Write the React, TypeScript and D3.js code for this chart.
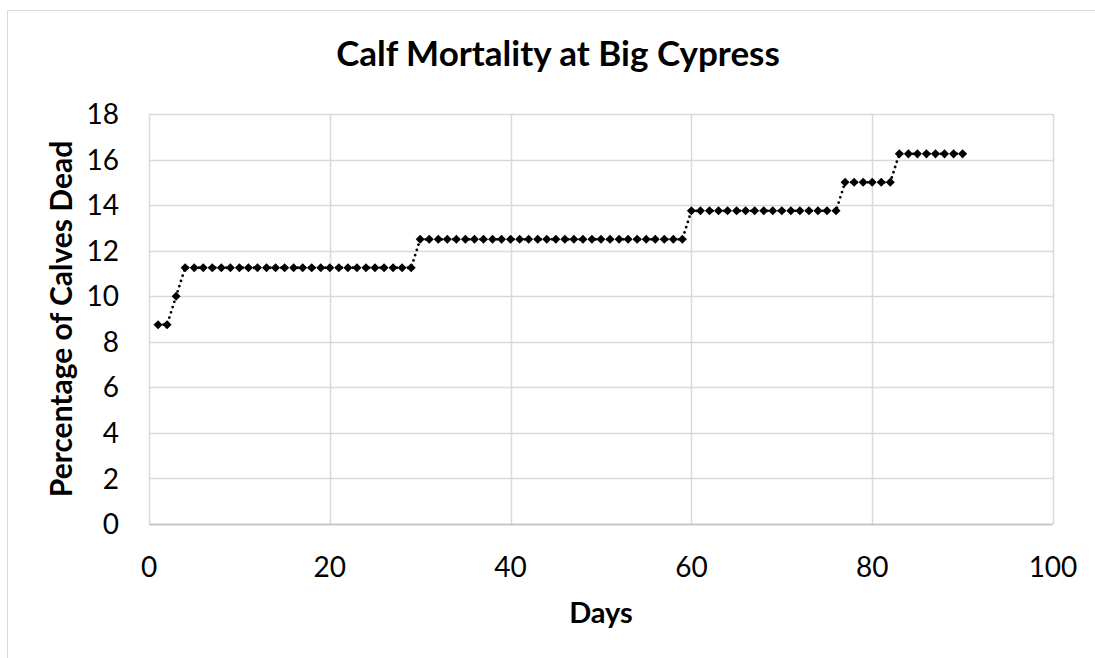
import React from "react";
import * as d3 from "d3";

const days: number[] = Array.from({ length: 90 }, (_, i) => i + 1);
const percentDead: number[] = [
  8.75, 8.75, 10,
  11.25, 11.25, 11.25, 11.25, 11.25, 11.25, 11.25, 11.25, 11.25, 11.25,
  11.25, 11.25, 11.25, 11.25, 11.25, 11.25, 11.25, 11.25, 11.25, 11.25,
  11.25, 11.25, 11.25, 11.25, 11.25, 11.25,
  12.5, 12.5, 12.5, 12.5, 12.5, 12.5, 12.5, 12.5, 12.5, 12.5,
  12.5, 12.5, 12.5, 12.5, 12.5, 12.5, 12.5, 12.5, 12.5, 12.5,
  12.5, 12.5, 12.5, 12.5, 12.5, 12.5, 12.5, 12.5, 12.5, 12.5,
  13.75, 13.75, 13.75, 13.75, 13.75, 13.75, 13.75, 13.75, 13.75, 13.75,
  13.75, 13.75, 13.75, 13.75, 13.75, 13.75, 13.75,
  15, 15, 15, 15, 15, 15,
  16.25, 16.25, 16.25, 16.25, 16.25, 16.25, 16.25, 16.25,
];
const xTicks: number[] = [0, 20, 40, 60, 80, 100];
const yTicks: number[] = [0, 2, 4, 6, 8, 10, 12, 14, 16, 18];

const W = 1095;
const H = 658;
const plot = { left: 149, top: 114, right: 1053, bottom: 524 };
const FONT = "Lato, 'Open Sans', sans-serif";

export default function App() {
  const x = d3.scaleLinear().domain([0, 100]).range([plot.left, plot.right]);
  const y = d3.scaleLinear().domain([0, 18]).range([plot.bottom, plot.top]);
  const pts = days.map((d, i) => ({ d, v: percentDead[i] }));
  const line = d3
    .line<{ d: number; v: number }>()
    .x((p) => x(p.d))
    .y((p) => y(p.v));
  const diamond = d3.symbol().type(d3.symbolDiamond2).size(52)();

  return (
    <svg
      width={W}
      height={H}
      style={{ position: "absolute", left: 0, top: 0, display: "block" }}
    >
      <rect x={0} y={0} width={W} height={H} fill="#fff" />
      <rect x={7.5} y={10.5} width={W + 10} height={H + 10} fill="#fff" stroke="#d9d9d9" strokeWidth={1} />
      {yTicks.map((t) => (
        <line key={"gy" + t} x1={plot.left} x2={plot.right} y1={Math.round(y(t)) + 0.5} y2={Math.round(y(t)) + 0.5} stroke="#d9d9d9" strokeWidth={1.5} />
      ))}
      {xTicks.map((t) => (
        <line key={"gx" + t} y1={plot.top} y2={plot.bottom} x1={Math.round(x(t)) + 0.5} x2={Math.round(x(t)) + 0.5} stroke="#d9d9d9" strokeWidth={1.5} />
      ))}
      <line x1={plot.left} x2={plot.right} y1={Math.round(y(0)) + 0.5} y2={Math.round(y(0)) + 0.5} stroke="#bfbfbf" strokeWidth={1.5} />
      <path
        d={line(pts) || ""}
        fill="none"
        stroke="#000"
        strokeWidth={2.8}
        strokeDasharray="0 5.5"
        strokeLinecap="round"
      />
      {pts.map((p) => (
        <path key={p.d} d={diamond || ""} transform={`translate(${x(p.d)},${y(p.v)})`} fill="#000" />
      ))}
      {yTicks.map((t) => (
        <text key={"ty" + t} x={119} y={y(t)} dy="0.36em" textAnchor="end" fontFamily={FONT} fontSize={28} fill="#000">
          {t}
        </text>
      ))}
      {xTicks.map((t) => (
        <text key={"tx" + t} x={x(t)} y={577} textAnchor="middle" fontFamily={FONT} fontSize={28} fill="#000">
          {t}
        </text>
      ))}
      <text x={(plot.left + plot.right) / 2} y={623} textAnchor="middle" fontFamily={FONT} fontSize={29} fontWeight="bold" fill="#000">
        Days
      </text>
      <text
        transform={`translate(72,${(plot.top + plot.bottom) / 2}) rotate(-90)`}
        textAnchor="middle"
        fontFamily={FONT}
        fontSize={30}
        fontWeight="bold"
        fill="#000"
      >
        Percentage of Calves Dead
      </text>
      <text x={558} y={66} textAnchor="middle" fontFamily={FONT} fontSize={35} fontWeight="bold" fill="#000">
        Calf Mortality at Big Cypress
      </text>
    </svg>
  );
}
